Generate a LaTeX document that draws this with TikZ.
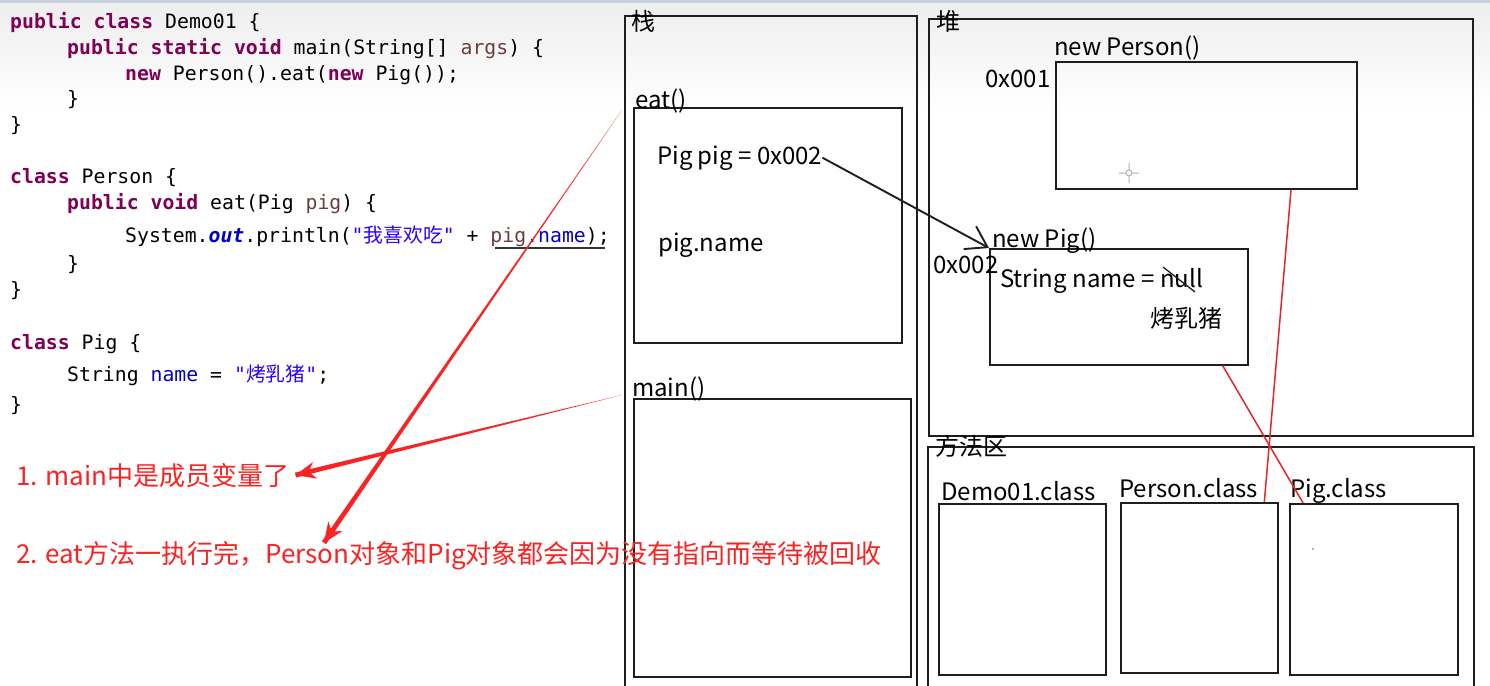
\documentclass[tikz,border=0pt]{standalone}
\usepackage{fontspec}
\setmainfont{Noto Sans CJK SC}
\setmonofont{DejaVu Sans Mono}
\newfontfamily\cjk{Noto Sans CJK SC}
\usetikzlibrary{arrows.meta,calc,positioning}

\definecolor{kwcol}{RGB}{127,0,85}
\definecolor{argcol}{RGB}{106,62,62}
\definecolor{strcol}{RGB}{42,0,255}
\definecolor{fldcol}{RGB}{0,0,192}
\definecolor{notered}{RGB}{250,35,35}
\definecolor{linkred}{RGB}{225,40,40}
\definecolor{framecol}{RGB}{30,30,30}
\definecolor{topbar}{RGB}{200,208,220}

\newcommand\kw[1]{\textcolor{kwcol}{\bfseries #1}}
\newcommand\prm[1]{\textcolor{argcol}{#1}}
\newcommand\strlit[1]{\textcolor{strcol}{#1}}
\newcommand\fld[1]{\textcolor{fldcol}{#1}}

\tikzset{
  box/.style={draw=framecol,line width=1.6pt,inner sep=0pt,anchor=north west},
  lbl/.style={inner sep=0pt,anchor=base west,font=\fontsize{24}{28}\selectfont},
  code/.style={inner sep=0pt,anchor=base west,font=\ttfamily\fontsize{19.8}{24}\selectfont},
  note/.style={inner sep=0pt,anchor=base west,text=notered,font=\fontsize{26}{30}\selectfont},
  ptr/.style={line width=1.9pt,framecol,-{Straight Barb[length=20pt,width=26pt]}},
  link/.style={line width=1.5pt,linkred},
  redhead/.style={notered,line width=1pt,-{Stealth[length=20pt,width=17pt]}}
}

\begin{document}
\begin{tikzpicture}[x=1pt,y=1pt]
\useasboundingbox (0,0) rectangle (1490,-685);
\fill[white] (0,0) rectangle (1490,-685);
\fill[top color=black!7,bottom color=white] (0,0) rectangle (1490,-110);
\fill[topbar] (0,0) rectangle (1490,-3);

% source code
\node[code] (c1) at (10,-29) {\kw{public class} Demo01 \{};
\node[code] (c2) at (67,-55) {\kw{public static void} main(String[] \prm{args}) \{};
\node[code] (c3) at (125,-80) {\kw{new} Person().eat(\kw{new} Pig());};
\node[code] (c4) at (67,-105) {\}};
\node[code] (c5) at (10,-131) {\}};
\node[code] (c6) at (10,-183) {\kw{class} Person \{};
\node[code] (c7) at (67,-209) {\kw{public void} eat(Pig \prm{pig}) \{};
\node[code] (c8) at (125,-242) {System.\fld{\bfseries\itshape out}.println(\strlit{"{\cjk 我喜欢吃}"} + \prm{pig}.\fld{name});};
\node[code] (c9) at (67,-270) {\}};
\node[code] (c10) at (10,-296) {\}};
\node[code] (c11) at (10,-349) {\kw{class} Pig \{};
\node[code] (c12) at (67,-381) {String \fld{name} = \strlit{"{\cjk 烤乳猪}"};};
\node[code] (c13) at (10,-411) {\}};
\draw[line width=1.4pt,black!80] (495,-248) -- (605,-248);

% stack
\node[box,minimum width=292pt,minimum height=675pt] (stack) at (624,-15) {};
\node[box,minimum width=268pt,minimum height=235pt] (eatbox) at (633,-107) {};
\node[box,minimum width=277pt,minimum height=278pt] (mainbox) at (633,-398) {};
\node[lbl] (stacklbl) at (631,-31) {栈};
\node[lbl] (eatlbl) at (635,-108) {eat()};
\node[lbl] (pigvar) at (657,-164) {Pig pig = 0x002};
\node[lbl] (pigname) at (658,-251) {pig.name};
\node[lbl] (mainlbl) at (632,-396) {main()};

% heap
\node[box,minimum width=544pt,minimum height=417pt] (heap) at (928,-18) {};
\node[box,minimum width=301pt,minimum height=127pt] (personobj) at (1055,-61) {};
\node[box,minimum width=258pt,minimum height=116pt] (pigobj) at (989,-248) {};
\node[lbl] (heaplbl) at (936,-31) {堆};
\node[lbl] (newperson) at (1054,-56) {new Person()};
\node[lbl] (addr1) at (985,-88) {0x001};
\node[lbl] (newpig) at (992,-247) {new Pig()};
\node[lbl] (addr2) at (933,-273) {0x002};
\node[lbl] (namefld) at (1000,-287) {String name = null};
\node[lbl] (roast) at (1150,-327) {烤乳猪};
\draw[line width=1.3pt,framecol] (1163,-267) -- (1195,-292);
\draw[gray!60,line width=1pt] (1129,-173) circle (3pt)
  (1119,-173) -- (1126,-173) (1132,-173) -- (1139,-173)
  (1129,-163) -- (1129,-170) (1129,-176) -- (1129,-183);

% method area
\node[box,minimum width=546pt,minimum height=244pt] (method) at (927,-446) {};
\node[box,minimum width=167pt,minimum height=171pt] (democls) at (938,-503) {};
\node[box,minimum width=157pt,minimum height=170pt] (personcls) at (1120,-502) {};
\node[box,minimum width=168pt,minimum height=171pt] (pigcls) at (1289,-503) {};
\node[lbl] (methodlbl) at (935,-455) {方法区};
\node[lbl] (demolbl) at (941,-500) {Demo01.class};
\node[lbl] (personlbl) at (1119,-497) {Person.class};
\node[lbl] (piglbl) at (1290,-497) {Pig.class};
\fill[black!60] (1313,-549) circle (0.9pt);

% references
\draw[ptr] (pigvar.east) -- (pigobj.north west);
\draw[link] ($(personobj.south west)!.78!(personobj.south east)$) -- ($(personcls.north west)!.91!(personcls.north east)$);
\draw[link] ($(pigobj.south west)!.9!(pigobj.south east)$) -- ($(pigcls.north west)!.083!(pigcls.north east)$);

% notes
\node[note] (note1) at (16,-485) {1. main中是成员变量了};
\node[note] (note2) at (16,-563) {2. eat方法一执行完，Person对象和Pig对象都会因为没有指向而等待被回收};
\coordinate (from1) at (622,-395);
\coordinate (to1) at ([xshift=6pt]note1.east);
\coordinate (from2) at (622,-110);
\coordinate (to2) at ([xshift=308pt,yshift=-2pt]note2.north west);
\fill[notered] (from1) -- ($(to1)!2.5pt!90:(from1)$) -- ($(to1)!2.5pt!-90:(from1)$) -- cycle;
\draw[redhead] ($(to1)!30pt!(from1)$) -- (to1);
\fill[notered] (from2) -- ($(to2)!2.5pt!90:(from2)$) -- ($(to2)!2.5pt!-90:(from2)$) -- cycle;
\draw[redhead] ($(to2)!30pt!(from2)$) -- (to2);
\end{tikzpicture}
\end{document}
